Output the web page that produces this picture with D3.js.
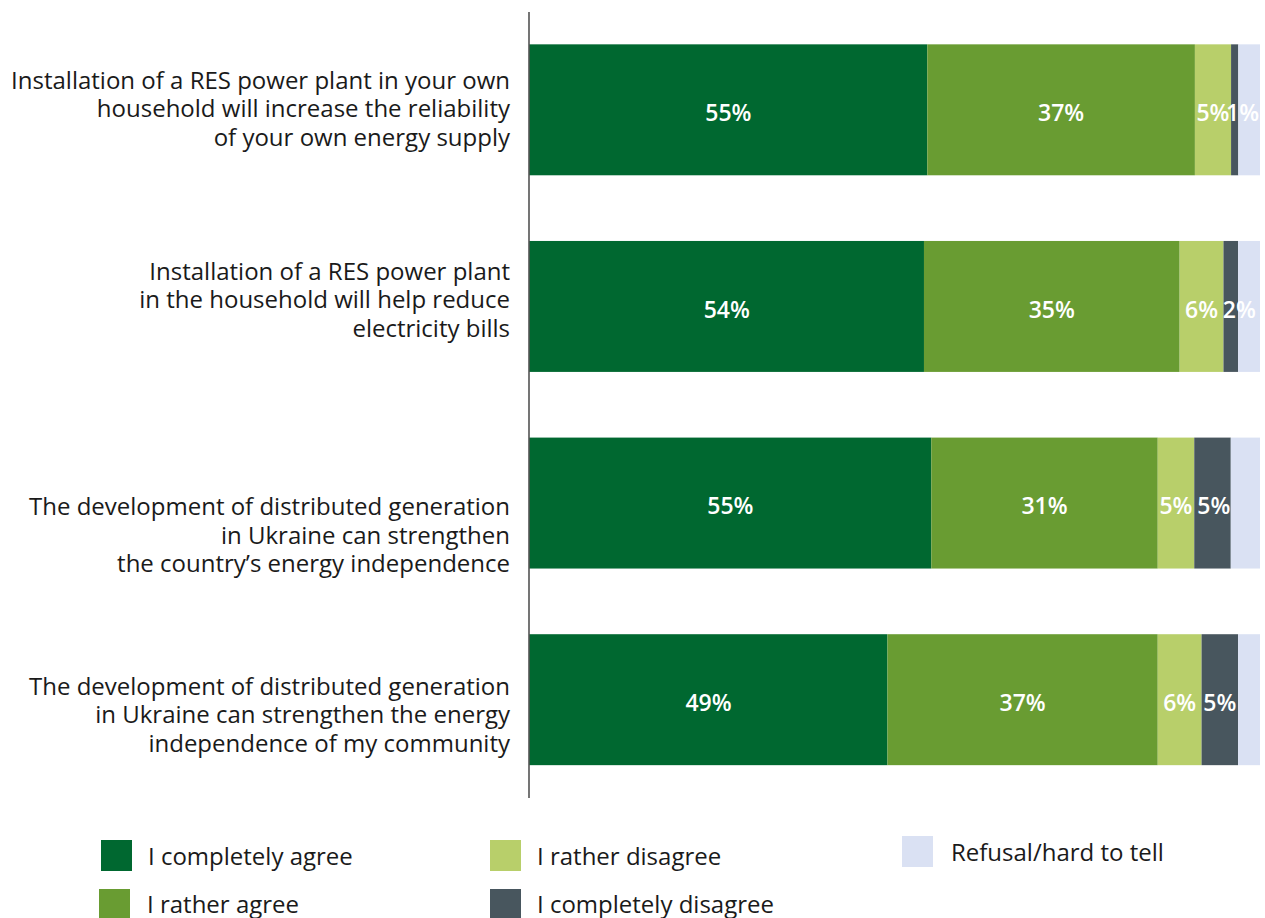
<!DOCTYPE html>
<html>
<head>
<meta charset="utf-8">
<script src="https://cdn.jsdelivr.net/npm/d3@7"></script>
<style>
  html, body { margin: 0; padding: 0; background: #ffffff; }
  svg { display: block; font-family: "Open Sans", "Noto Sans", sans-serif; }
</style>
</head>
<body>
<svg id="chart" width="1265" height="918"></svg>
<script>
// Survey statements (one bar each), split over several lines
const statements = [
  ["Installation of a RES power plant in your own", "household will increase the reliability", "of your own energy supply"],
  ["Installation of a RES power plant", "in the household will help reduce", "electricity bills"],
  ["The development of distributed generation", "in Ukraine can strengthen", "the country\u2019s energy independence"],
  ["The development of distributed generation", "in Ukraine can strengthen the energy", "independence of my community"]
];

// Answer options, in stacking order
const answers = ["I completely agree", "I rather agree", "I rather disagree", "I completely disagree", "Refusal/hard to tell"];
const answerColors = ["#006830", "#699c32", "#b8cf6a", "#48565e", "#dae1f3"];

// Shares of respondents, % (one value per statement)
const completelyAgree    = [55, 54, 55, 49];
const ratherAgree        = [37, 35, 31, 37];
const ratherDisagree     = [5, 6, 5, 6];
const completelyDisagree = [1, 2, 5, 5];
const refusal            = [3, 3, 4, 3];

// Which answers carry a printed value
const labelled = [true, true, true, true, false];

const rows = statements.map((s, i) => ({
  id: i,
  [answers[0]]: completelyAgree[i],
  [answers[1]]: ratherAgree[i],
  [answers[2]]: ratherDisagree[i],
  [answers[3]]: completelyDisagree[i],
  [answers[4]]: refusal[i]
}));

const svg = d3.select("#chart");

const x = d3.scaleLinear().domain([0, 1]).range([529.5, 1260]);
const y = d3.scaleBand()
  .domain(rows.map(d => d.id))
  .range([11.5, 798])
  .paddingInner(0.334)
  .paddingOuter(0.167);

const color = d3.scaleOrdinal().domain(answers).range(answerColors);

// Each bar sums to 100%
const stack = d3.stack().keys(answers).offset(d3.stackOffsetExpand);
const series = stack(rows);

const bars = svg.append("g");
series.forEach(layer => {
  bars.selectAll(null)
    .data(layer)
    .join("rect")
    .attr("x", d => x(d[0]))
    .attr("y", d => y(d.data.id))
    .attr("width", d => x(d[1]) - x(d[0]))
    .attr("height", y.bandwidth())
    .attr("fill", color(layer.key));
});

// Value labels, centred in their segments; narrow segments push the next label
// right, but never past the end of the bar
const labelGroup = svg.append("g")
  .attr("fill", "#ffffff")
  .attr("font-size", 23)
  .attr("font-weight", 600)
  .attr("text-anchor", "middle");

const barEnd = x.range()[1];
rows.forEach((row, i) => {
  let prevRight = -Infinity;
  series.forEach((layer, k) => {
    if (!labelled[k]) return;
    const seg = layer[i];
    const txt = row[layer.key] + "%";
    const halfW = txt.length * 8.2;
    let cx = (x(seg[0]) + x(seg[1])) / 2;
    cx = Math.max(cx, prevRight + 5 + halfW);
    cx = Math.min(cx, barEnd - halfW - 1);
    prevRight = cx + halfW;
    labelGroup.append("text")
      .attr("x", cx)
      .attr("y", y(row.id) + y.bandwidth() / 2 + 3)
      .attr("dy", "0.36em")
      .text(txt);
  });
});

// Category axis line
svg.append("line")
  .attr("x1", 529).attr("x2", 529)
  .attr("y1", 12).attr("y2", 798)
  .attr("stroke", "#1a1a1a")
  .attr("stroke-width", 1.2);

// Statement labels (blocks are nudged vertically for each bar)
const lineH = 28.5;
const blockShift = [-1, -7, 32, 15];
const cat = svg.append("g")
  .attr("fill", "#1a1a1a")
  .attr("font-size", 24)
  .attr("text-anchor", "end");
statements.forEach((lines, i) => {
  const cy = y(i) + y.bandwidth() / 2 + blockShift[i];
  const t = cat.append("text").attr("x", 510);
  lines.forEach((ln, j) => {
    t.append("tspan")
      .attr("x", 510)
      .attr("y", cy + (j - (lines.length - 1) / 2) * lineH)
      .attr("dy", "0.36em")
      .text(ln);
  });
});

// Legend
const legendPos = [
  { sx: 101, sy: 840, tx: 148, ty: 856 },
  { sx: 99,  sy: 889, tx: 147, ty: 904 },
  { sx: 490, sy: 840, tx: 537, ty: 856 },
  { sx: 490, sy: 889, tx: 537, ty: 904 },
  { sx: 902, sy: 836, tx: 951, ty: 852 }
];
const legend = svg.append("g").attr("font-size", 24).attr("fill", "#1a1a1a");
answers.forEach((a, k) => {
  const p = legendPos[k];
  legend.append("rect")
    .attr("x", p.sx).attr("y", p.sy)
    .attr("width", 31).attr("height", 31)
    .attr("fill", color(a));
  legend.append("text")
    .attr("x", p.tx).attr("y", p.ty)
    .attr("dy", "0.36em")
    .text(a);
});
</script>
</body>
</html>
